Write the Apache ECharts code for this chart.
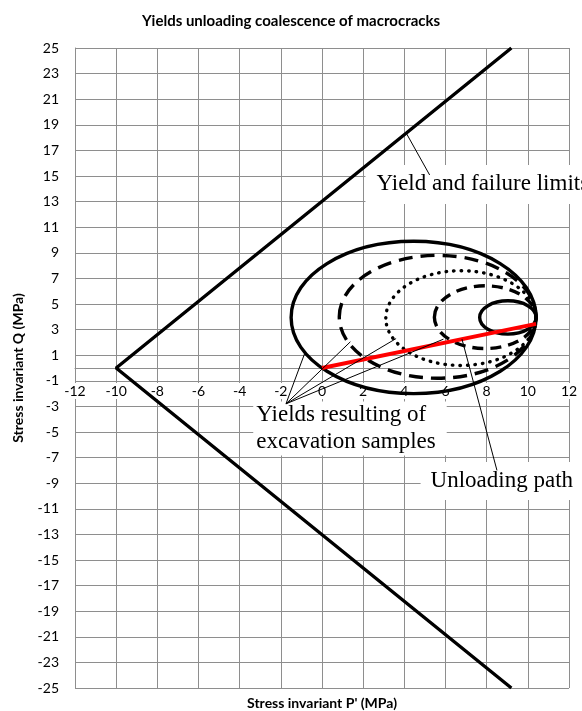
<!DOCTYPE html>
<html>
<head>
<meta charset="utf-8">
<script src="https://cdn.jsdelivr.net/npm/echarts@6/dist/echarts.min.js"></script>
<style>
html,body{margin:0;padding:0;background:#fff;}
#chart{width:582px;height:711px;}
</style>
</head>
<body>
<div id="chart"></div>
<script>
// ---- data ----
const chartTitle = 'Yields unloading coalescence of macrocracks';
const xName = "Stress invariant P' (MPa)";
const yName = 'Stress invariant Q (MPa)';
const xRange = [-12, 12];
const yRange = [-25, 25];

// yield and failure limits (V shape)
const yieldLimit = [[9.2, 25], [-10, 0], [9.2, -25]];
// unloading path (red)
const unloadingPath = [[0, 0], [10.4, 3.45]];

// yield ellipses: [centre P', centre Q, half width, half height]
const yieldOuter = [4.45, 3.95, 5.95, 5.95];
const yieldDashed = [5.62, 4.0, 4.78, 4.8];
const yieldDotted = [6.75, 3.9, 3.65, 3.7];
const yieldDashedSmall = [7.93, 3.97, 2.47, 2.45];
const yieldSmall = [9.03, 3.95, 1.37, 1.3];

// annotation leader lines: [x1, y1, x2, y2]
const leaderLimits = [[4.1, 18.33, 5.23, 15.08]];
const leaderYields = [
  [-1.75, -2.8, -0.85, 1.1],
  [-1.75, -2.8, 1.38, 2.05],
  [-1.75, -2.8, 3.6, 2.3],
  [-1.75, -2.8, 5.9, 2.25]
];
const leaderPath = [[6.8, 2.26, 8.5, -8.0]];

// annotation notes: [x, y] anchor (left / middle of box) and texts
const notePoints = [[2.11, 14.34], [-3.34, -4.73], [4.79, -8.83]];
const noteTexts = ['Yield and failure limits', 'Yields resulting of\nexcavation samples', 'Unloading path'];

// ---- chart ----
const GRID = '#8e8e8e';
const GRID_TOP = 48, GRID_BOTTOM = 23, CHART_H = 711;
const chart = echarts.init(document.getElementById('chart'));

function ellipseSeries(name, params, dash, lineCap) {
  return {
    name: name,
    type: 'custom',
    coordinateSystem: 'cartesian2d',
    data: [params],
    z: 5,
    silent: true,
    renderItem: function (p, api) {
      const c = api.coord([api.value(0), api.value(1)]);
      const s = api.size([api.value(2), api.value(3)]);
      return {
        type: 'ellipse',
        shape: { cx: c[0], cy: c[1], rx: s[0], ry: s[1] },
        style: { fill: 'none', stroke: '#000', lineWidth: 3.4, lineDash: dash, lineCap: lineCap || 'butt' }
      };
    }
  };
}

function leaderSeries(name, segs) {
  return {
    name: name,
    type: 'custom',
    coordinateSystem: 'cartesian2d',
    data: segs,
    z: 7,
    silent: true,
    renderItem: function (p, api) {
      const a = api.coord([api.value(0), api.value(1)]);
      const b = api.coord([api.value(2), api.value(3)]);
      return {
        type: 'line',
        shape: { x1: a[0], y1: a[1], x2: b[0], y2: b[1] },
        style: { stroke: '#000', lineWidth: 1 }
      };
    }
  };
}

const notePadding = [[7, 12, 6, 11], [0, 11, 0, 3], [6, 12, 6, 10]];
const noteLineHeight = [26, 27, 26];

// x axis drawn at Q = 0 (middle of the plot)
const plotH = CHART_H - GRID_TOP - GRID_BOTTOM;
const xAxisOffset = -plotH * (0 - yRange[0]) / (yRange[1] - yRange[0]);

const option = {
  backgroundColor: '#fff',
  animation: false,
  title: {
    text: chartTitle,
    left: 'center',
    top: 9,
    textStyle: { fontFamily: 'Lato', fontWeight: 'bold', fontSize: 15, color: '#000' }
  },
  grid: { left: 75, right: 13, top: GRID_TOP, bottom: GRID_BOTTOM, containLabel: false, outerBoundsMode: 'none' },
  xAxis: {
    type: 'value',
    position: 'bottom',
    offset: xAxisOffset,
    min: xRange[0], max: xRange[1], interval: 2,
    name: xName,
    nameLocation: 'middle',
    nameGap: 328,
    nameTextStyle: { fontFamily: 'Lato', fontWeight: 'bold', fontSize: 14, color: '#000' },
    axisLine: { onZero: false, lineStyle: { color: GRID, width: 1 } },
    axisTick: { show: false },
    axisLabel: {
      fontFamily: 'Lato', fontSize: 14, color: '#000', margin: 15,
      backgroundColor: '#fff', padding: [1, 2, 1, 2]
    },
    splitLine: { show: true, lineStyle: { color: GRID, width: 1 } }
  },
  yAxis: {
    type: 'value',
    min: yRange[0], max: yRange[1], interval: 2,
    name: yName,
    nameLocation: 'middle',
    nameRotate: 90,
    nameGap: 50,
    nameTextStyle: { fontFamily: 'Lato', fontWeight: 'bold', fontSize: 14, color: '#000' },
    axisLine: { show: true, onZero: false, lineStyle: { color: GRID, width: 1 } },
    axisTick: { show: false },
    axisLabel: { fontFamily: 'Lato', fontSize: 14, color: '#000', margin: 16 },
    splitLine: { show: true, lineStyle: { color: GRID, width: 1 } }
  },
  series: [
    {
      name: 'Notes',
      type: 'custom',
      coordinateSystem: 'cartesian2d',
      data: notePoints,
      z: 3,
      silent: true,
      renderItem: function (p, api) {
        const c = api.coord([api.value(0), api.value(1)]);
        return {
          type: 'text',
          x: c[0], y: c[1],
          style: {
            text: noteTexts[p.dataIndex],
            fontFamily: 'Liberation Serif',
            fontSize: 23,
            lineHeight: noteLineHeight[p.dataIndex],
            fill: '#000',
            align: 'left',
            verticalAlign: 'middle',
            backgroundColor: '#fff',
            padding: notePadding[p.dataIndex]
          }
        };
      }
    },
    {
      name: 'Yield and failure limits',
      type: 'line',
      data: yieldLimit,
      symbol: 'none',
      z: 5,
      lineStyle: { color: '#000', width: 3.4 }
    },
    ellipseSeries('Yield 1', yieldOuter, null),
    ellipseSeries('Yield 2', yieldDashed, [14, 8]),
    ellipseSeries('Yield 3', yieldDotted, [0.5, 7], 'round'),
    ellipseSeries('Yield 4', yieldDashedSmall, [11, 7]),
    ellipseSeries('Yield 5', yieldSmall, null),
    {
      name: 'Unloading path',
      type: 'line',
      data: unloadingPath,
      symbol: 'none',
      z: 6,
      lineStyle: { color: '#ff0000', width: 4 }
    },
    leaderSeries('Leader limits', leaderLimits),
    leaderSeries('Leader yields', leaderYields),
    leaderSeries('Leader path', leaderPath)
  ]
};
chart.setOption(option);
</script>
</body>
</html>
